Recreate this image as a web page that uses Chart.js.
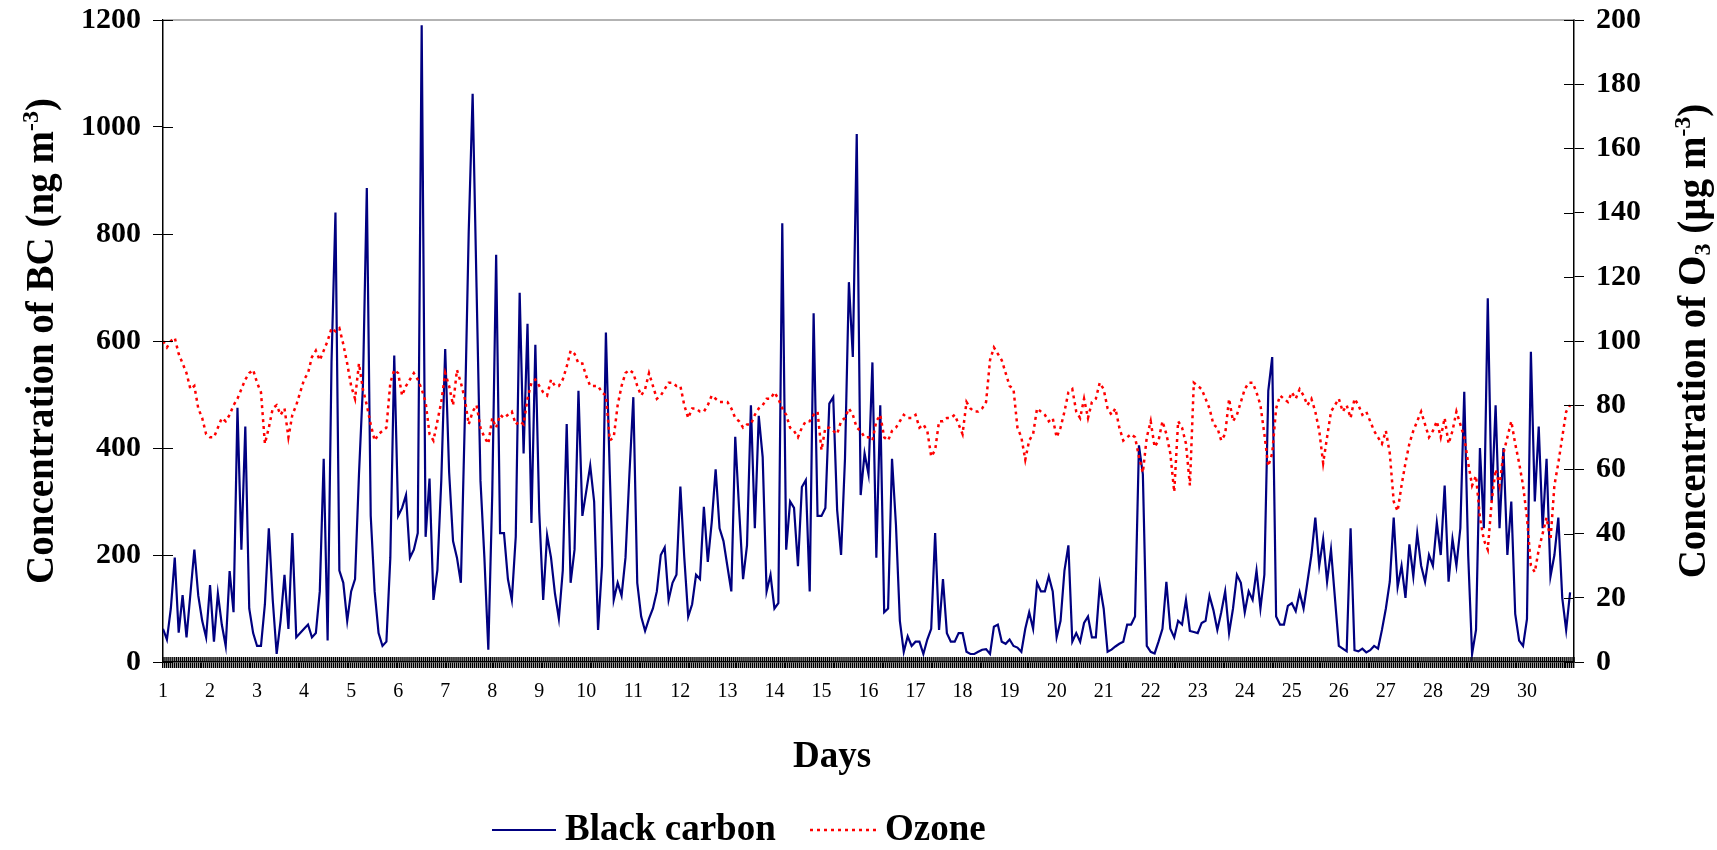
<!DOCTYPE html>
<html>
<head>
<meta charset="utf-8">
<title>Black carbon and ozone</title>
<script src="https://cdn.jsdelivr.net/npm/chart.js@4.4.1/dist/chart.umd.min.js"></script>
<style>
    html, body { margin: 0; padding: 0; background: #fff; }
    #wrap { width: 1717px; height: 850px; }
</style>
</head>
<body>
<div id="wrap"><canvas id="chartBcO3" width="1717" height="850"></canvas></div>
<script>
"use strict";

/* ---------------- Data (2-hourly, 12 values per day) ---------------- */
const dayLabels = ["1", "2", "3", "4", "5", "6", "7", "8", "9", "10",
    "11", "12", "13", "14", "15", "16", "17", "18", "19", "20",
    "21", "22", "23", "24", "25", "26", "27", "28", "29", "30"];

// Black carbon, ng m-3
const blackCarbon = [
    62, 42, 100, 195, 55, 125, 46, 128, 210, 124, 77, 46,        // day 1
    144, 38, 128, 70, 30, 170, 93, 475, 210, 440, 100, 54,       // day 2
    30, 30, 108, 250, 116, 15, 77, 163, 62, 241, 46, 54,         // day 3
    62, 70, 46, 54, 132, 380, 40, 562, 840, 171, 148, 77,        // day 4
    132, 155, 351, 515, 886, 273, 132, 54, 30, 38, 195, 573,     // day 5
    273, 288, 312, 195, 210, 241, 1190, 234, 343, 116, 171, 339, // day 6
    585, 355, 226, 195, 148, 452, 804, 1062, 700, 339, 195, 23,  // day 7
    312, 761, 241, 241, 155, 116, 234, 690, 390, 632, 260, 593,  // day 8
    280, 116, 237, 195, 128, 81, 171, 445, 148, 210, 507, 273,   // day 9
    320, 367, 300, 60, 179, 616, 351, 116, 148, 124, 195, 351,   // day 10
    495, 148, 85, 58, 81, 100, 132, 200, 214, 116, 148, 163,     // day 11
    328, 195, 85, 108, 163, 155, 290, 187, 261, 360, 250, 226,   // day 12
    179, 132, 421, 284, 155, 218, 480, 250, 460, 383, 132, 163,  // day 13
    100, 110, 820, 210, 300, 288, 179, 327, 340, 132, 652, 273,  // day 14
    273, 288, 483, 495, 284, 200, 380, 710, 570, 987, 312, 390,  // day 15
    351, 560, 195, 480, 93, 100, 380, 257, 77, 19, 48, 30,       // day 16
    38, 38, 15, 42, 62, 241, 60, 155, 54, 38, 38, 54,            // day 17
    54, 19, 15, 15, 19, 23, 24, 15, 66, 70, 38, 34,              // day 18
    42, 30, 27, 19, 62, 93, 62, 148, 132, 132, 160, 132,         // day 19
    46, 77, 171, 218, 38, 54, 38, 73, 85, 46, 46, 144,           // day 20
    100, 19, 23, 29, 34, 38, 70, 70, 85, 405, 351, 30,           // day 21
    19, 16, 38, 62, 150, 62, 46, 77, 70, 116, 58, 56,            // day 22
    54, 73, 77, 124, 97, 60, 93, 132, 54, 100, 163, 148,         // day 23
    93, 132, 116, 171, 100, 163, 507, 570, 85, 70, 70, 105,      // day 24
    110, 95, 130, 100, 150, 200, 270, 180, 230, 150, 210, 120,   // day 25
    30, 25, 20, 250, 22, 20, 25, 18, 22, 30, 25, 60,             // day 26
    100, 150, 270, 140, 180, 120, 220, 160, 240, 180, 150, 200,  // day 27
    180, 260, 200, 330, 150, 230, 180, 250, 505, 200, 15, 60,    // day 28
    400, 250, 680, 300, 480, 250, 400, 200, 300, 90, 40, 30,     // day 29
    80, 580, 300, 440, 250, 380, 160, 200, 270, 120, 60, 130     // day 30
];

// Ozone, µg m-3
const ozone = [
    100, 98, 100, 101, 96, 93, 90, 85, 86, 79, 76, 71,   // day 1
    70, 70, 73, 76, 75, 77, 80, 82, 85, 88, 90, 91,      // day 2
    87, 84, 68, 73, 79, 80, 77, 79, 70, 77, 80, 84,      // day 3
    88, 90, 95, 97, 94, 97, 100, 104, 103, 104, 99, 93,  // day 4
    86, 82, 93, 85, 80, 74, 69, 71, 72, 73, 87, 91,      // day 5
    90, 83, 86, 88, 90, 88, 85, 81, 71, 69, 75, 81,      // day 6
    90, 86, 80, 91, 87, 82, 74, 78, 80, 73, 70, 68,      // day 7
    76, 73, 77, 76, 77, 78, 74, 75, 74, 82, 87, 88,      // day 8
    86, 84, 83, 88, 86, 86, 88, 92, 97, 96, 93, 93,      // day 9
    89, 86, 86, 86, 84, 83, 69, 70, 80, 86, 90, 91,      // day 10
    90, 86, 83, 85, 90, 86, 82, 83, 85, 87, 87, 86,      // day 11
    86, 80, 76, 79, 79, 78, 78, 80, 83, 82, 81, 81,      // day 12
    81, 79, 76, 75, 73, 74, 74, 77, 79, 80, 82, 82,      // day 13
    84, 82, 79, 77, 73, 72, 70, 73, 75, 75, 77, 78,      // day 14
    66, 73, 73, 72, 71, 75, 76, 79, 77, 73, 72, 70,      // day 15
    70, 69, 75, 77, 70, 69, 72, 73, 75, 77, 76, 76,      // day 16
    77, 73, 74, 72, 64, 66, 75, 75, 76, 76, 77, 74,      // day 17
    71, 81, 79, 78, 78, 79, 81, 94, 98, 96, 94, 90,      // day 18
    86, 85, 73, 70, 63, 69, 71, 79, 78, 77, 75, 76,      // day 19
    70, 73, 78, 84, 85, 78, 76, 82, 76, 81, 82, 87,      // day 20
    85, 79, 77, 79, 73, 69, 70, 71, 70, 64, 59, 70,      // day 21
    75, 67, 69, 75, 71, 65, 53, 75, 73, 68, 55, 87,      // day 22
    86, 85, 82, 79, 74, 73, 69, 71, 82, 75, 77, 81,      // day 23
    85, 87, 87, 84, 80, 71, 61, 65, 79, 83, 82, 81,      // day 24
    84, 82, 85, 83, 80, 82, 78, 72, 62, 70, 78, 80,      // day 25
    82, 78, 80, 76, 82, 80, 77, 78, 75, 72, 70, 68,      // day 26
    72, 65, 50, 47, 55, 62, 68, 72, 75, 78, 74, 70,      // day 27
    72, 75, 70, 76, 68, 72, 78, 74, 70, 62, 55, 58,      // day 28
    45, 38, 35, 50, 60, 55, 65, 70, 75, 68, 62, 55,      // day 29
    45, 30, 28, 35, 40, 45, 38, 55, 62, 70, 78, 80       // day 30
];

const HOURS_PER_STEP = 2;
const HOURS_PER_DAY = 24;

(function (window, document) {
    const SERIF = "'Liberation Serif', 'Times New Roman', serif";
    const BC_COLOR = "#000080";
    const O3_COLOR = "#ff0000";
    const O3_DASH = [3, 4];

    // fixed plot box, in canvas pixels
    const BOX = { left: 163, right: 1574, top: 20, bottom: 662 };
    const TICK_SIZE = 30;

    const toPoints = (arr) => arr.map((v, i) => ({ x: i * HOURS_PER_STEP, y: v }));

    /* ---------------- text with super/subscripts ---------------- */
    function richWidth(ctx, parts, size) {
        let w = 0;
        parts.forEach(p => {
            ctx.font = `bold ${p.sup || p.sub ? Math.round(size * 0.62) : size}px ${SERIF}`;
            w += ctx.measureText(p.t).width;
        });
        return w;
    }

    function drawRich(ctx, parts, cx, cy, size, angle) {
        ctx.save();
        ctx.translate(cx, cy);
        ctx.rotate(angle);
        ctx.fillStyle = "#000";
        ctx.textBaseline = "alphabetic";
        ctx.textAlign = "left";
        let x = -richWidth(ctx, parts, size) / 2;
        const base = size * 0.33;
        parts.forEach(p => {
            const small = p.sup || p.sub;
            ctx.font = `bold ${small ? Math.round(size * 0.62) : size}px ${SERIF}`;
            let y = base;
            if (p.sup) y = base - size * 0.38;
            if (p.sub) y = base + size * 0.14;
            ctx.fillText(p.t, x, y);
            x += ctx.measureText(p.t).width;
        });
        ctx.restore();
    }

    /* ---------------- decorations plugin ---------------- */
    const decor = {
        id: "decor",
        afterDraw(chart) {
            const { ctx, chartArea: a, scales } = chart;
            ctx.save();

            // top frame
            ctx.strokeStyle = "#9a9a9a";
            ctx.lineWidth = 1.5;
            ctx.beginPath();
            ctx.moveTo(a.left, a.top);
            ctx.lineTo(a.right, a.top);
            ctx.stroke();

            // inner halves of tick marks
            ctx.strokeStyle = "#000";
            ctx.lineWidth = 1;
            ctx.beginPath();
            scales.y.ticks.forEach(t => {
                const py = Math.round(scales.y.getPixelForValue(t.value)) + 0.5;
                ctx.moveTo(a.left, py); ctx.lineTo(a.left + 10, py);
            });
            scales.y1.ticks.forEach(t => {
                const py = Math.round(scales.y1.getPixelForValue(t.value)) + 0.5;
                ctx.moveTo(a.right - 10, py); ctx.lineTo(a.right, py);
            });
            ctx.stroke();
            ctx.lineWidth = 1.4;
            ctx.beginPath();
            scales.x.ticks.forEach(t => {
                const px = scales.x.getPixelForValue(t.value);
                ctx.moveTo(px, a.bottom - 5); ctx.lineTo(px, a.bottom);
            });
            ctx.stroke();

            // axis titles
            const midY = (a.top + a.bottom) / 2;
            drawRich(ctx, [
                { t: "Concentration of BC (ng m" }, { t: "-3", sup: true }, { t: ")" }
            ], 40, midY, 39, -Math.PI / 2);
            drawRich(ctx, [
                { t: "Concentration of O" }, { t: "3", sub: true }, { t: " (\u00b5g m" },
                { t: "-3", sup: true }, { t: ")" }
            ], 1692, midY, 39, -Math.PI / 2);
            drawRich(ctx, [{ t: "Days" }], 832, 755, 37, 0);

            // legend
            const ly = 830;
            const ds = chart.data.datasets;
            ctx.lineWidth = 2;
            ctx.strokeStyle = ds[0].borderColor;
            ctx.setLineDash([]);
            ctx.beginPath(); ctx.moveTo(492, ly); ctx.lineTo(556, ly); ctx.stroke();
            ctx.lineWidth = 2.5;
            ctx.strokeStyle = ds[1].borderColor;
            ctx.setLineDash(ds[1].borderDash);
            ctx.beginPath(); ctx.moveTo(810, ly); ctx.lineTo(878, ly); ctx.stroke();
            ctx.setLineDash([]);
            ctx.fillStyle = "#000";
            ctx.font = `bold 37px ${SERIF}`;
            ctx.textBaseline = "middle";
            ctx.textAlign = "left";
            ctx.fillText(ds[0].label, 565, ly);
            ctx.fillText(ds[1].label, 885, ly);

            ctx.restore();
        }
    };

    // pin a vertical axis to a fixed width and drop its half-label padding
    const fitVertical = (width) => (s) => {
        s.width = width;
        s.paddingTop = 0;
        s.paddingBottom = 0;
    };

    /* ---------------- Chart ---------------- */
    function init() {
        const canvas = document.getElementById("chartBcO3");
        if (!canvas || typeof Chart === "undefined") return;

        const tickFont = { family: SERIF, size: TICK_SIZE, weight: "bold" };
        const lastHour = dayLabels.length * HOURS_PER_DAY;

        new Chart(canvas.getContext("2d"), {
            type: "line",
            data: {
                datasets: [
                    {
                        label: "Black carbon",
                        data: toPoints(blackCarbon),
                        yAxisID: "y",
                        borderColor: BC_COLOR,
                        borderWidth: 2.2,
                        pointRadius: 0,
                        tension: 0,
                        order: 2
                    },
                    {
                        label: "Ozone",
                        data: toPoints(ozone),
                        yAxisID: "y1",
                        borderColor: O3_COLOR,
                        borderWidth: 2.5,
                        borderDash: O3_DASH,
                        pointRadius: 0,
                        tension: 0,
                        order: 1
                    }
                ]
            },
            options: {
                responsive: false,
                animation: false,
                devicePixelRatio: 1,
                layout: { padding: { left: 0, right: 0, top: BOX.top, bottom: 0 } },
                plugins: {
                    legend: { display: false },
                    tooltip: { enabled: false }
                },
                scales: {
                    x: {
                        type: "linear",
                        min: 0,
                        max: lastHour,
                        afterFit: (s) => { s.height = 850 - BOX.bottom; },
                        border: { display: true, color: "#000", width: 1.5 },
                        grid: { drawOnChartArea: false, drawTicks: true, tickLength: 6, color: "#000", lineWidth: 1.4 },
                        ticks: {
                            stepSize: 1,
                            autoSkip: false,
                            maxRotation: 0,
                            minRotation: 0,
                            padding: 12,
                            color: "#000",
                            font: { family: SERIF, size: 20 },
                            callback: (v) => (v % HOURS_PER_DAY === 0 && v < lastHour) ? dayLabels[v / HOURS_PER_DAY] : ""
                        }
                    },
                    y: {
                        position: "left",
                        min: 0,
                        max: 1200,
                        afterFit: fitVertical(BOX.left),
                        border: { display: true, color: "#000", width: 1.5 },
                        grid: { drawOnChartArea: false, drawTicks: true, tickLength: 10, color: "#000" },
                        ticks: { stepSize: 200, padding: 12, color: "#000", font: tickFont, callback: (v) => String(v) }
                    },
                    y1: {
                        position: "right",
                        min: 0,
                        max: 200,
                        afterFit: fitVertical(1717 - BOX.right),
                        border: { display: true, color: "#000", width: 1.5 },
                        grid: { drawOnChartArea: false, drawTicks: true, tickLength: 10, color: "#000" },
                        ticks: { stepSize: 20, padding: 12, color: "#000", font: tickFont, callback: (v) => String(v) }
                    }
                }
            },
            plugins: [decor]
        });
    }

    init();
})(window, document);
</script>
</body>
</html>
